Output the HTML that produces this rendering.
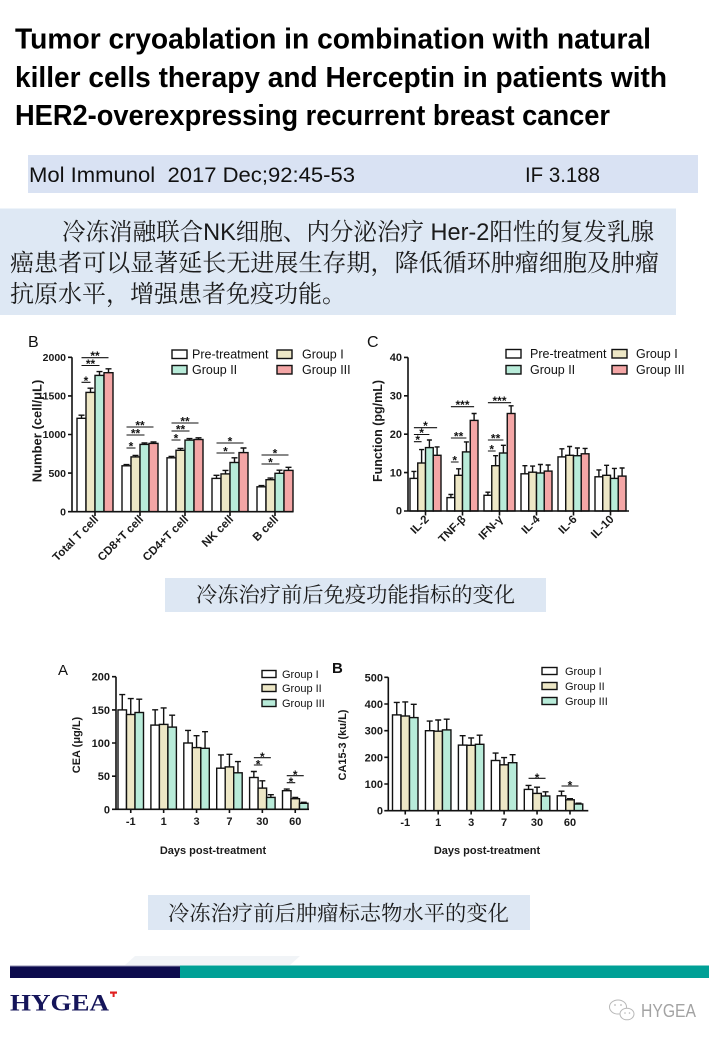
<!DOCTYPE html>
<html><head><meta charset="utf-8">
<style>
html,body{margin:0;padding:0;background:#fff;}
svg{display:block;}
.sans{font-family:"Liberation Sans","Noto Sans CJK SC",sans-serif;}
.cjk{font-family:"Liberation Sans","Noto Serif CJK SC","Noto Sans CJK SC",serif;}
.w{fill:#ffffff}.b{fill:#ede7c6}.g{fill:#b8ebd9}.p{fill:#f4a6a6}
.bars rect{stroke:#111;stroke-width:1.4;}
.ax{fill:none;stroke:#111;stroke-width:1.6;}
.eb{fill:none;stroke:#111;stroke-width:1.4;}
.sg{fill:none;stroke:#111;stroke-width:1.1;}
.tk{font-family:"Liberation Sans",sans-serif;font-weight:bold;fill:#1a1a1a;}
.st{font-family:"Liberation Sans",sans-serif;font-weight:bold;font-size:12px;fill:#111;text-anchor:middle;}
.lg{font-family:"Liberation Sans",sans-serif;fill:#111;}
</style></head>
<body>
<svg width="720" height="1040" viewBox="0 0 720 1040" xmlns="http://www.w3.org/2000/svg">
<rect x="0" y="0" width="720" height="1040" fill="#fff"/>

<!-- Title -->
<g class="sans" font-weight="bold" font-size="29" fill="#000">
<text x="15" y="48.5" textLength="636" lengthAdjust="spacingAndGlyphs">Tumor cryoablation in combination with natural</text>
<text x="15" y="87" textLength="652" lengthAdjust="spacingAndGlyphs">killer cells therapy and Herceptin in patients with</text>
<text x="15" y="125" textLength="595" lengthAdjust="spacingAndGlyphs">HER2-overexpressing recurrent breast cancer</text>
</g>

<!-- Journal box -->
<rect x="28" y="155" width="670" height="38" fill="#d9e2f3"/>
<text class="sans" x="29" y="182" font-size="21" fill="#111" textLength="326" lengthAdjust="spacingAndGlyphs" style="white-space:pre">Mol Immunol  2017 Dec;92:45-53</text>
<text class="sans" x="525" y="182" font-size="21" fill="#111" textLength="75" lengthAdjust="spacingAndGlyphs">IF 3.188</text>

<!-- Chinese summary box -->
<rect x="0" y="208.5" width="676" height="106.5" fill="#dee8f4"/>
<g class="cjk" font-size="24" fill="#1a1a1a">
<text x="62" y="240" textLength="592" lengthAdjust="spacingAndGlyphs">冷冻消融联合NK细胞、内分泌治疗 Her-2阳性的复发乳腺</text>
<text x="10" y="271" textLength="649" lengthAdjust="spacingAndGlyphs">癌患者可以显著延长无进展生存期，降低循环肿瘤细胞及肿瘤</text>
<text x="10" y="302">抗原水平，增强患者免疫功能。</text>
</g>

<!-- ================= Top chart B ================= -->
<text class="lg" x="28" y="347" font-size="16">B</text>
<g class="bars">
<rect class="w" x="77" y="418.3" width="9" height="93.4"/>
<rect class="b" x="86" y="392.4" width="9" height="119.3"/>
<rect class="g" x="95" y="375.4" width="9" height="136.3"/>
<rect class="p" x="104" y="372.7" width="9" height="139"/>
<rect class="w" x="122" y="465.8" width="9" height="45.9"/>
<rect class="b" x="131" y="456.9" width="9" height="54.8"/>
<rect class="g" x="140" y="444.4" width="9" height="67.3"/>
<rect class="p" x="149" y="443.4" width="9" height="68.3"/>
<rect class="w" x="167" y="457.8" width="9" height="53.9"/>
<rect class="b" x="176" y="450.3" width="9" height="61.4"/>
<rect class="g" x="185" y="440.1" width="9" height="71.6"/>
<rect class="p" x="194" y="439.5" width="9" height="72.2"/>
<rect class="w" x="212" y="478.4" width="9" height="33.3"/>
<rect class="b" x="221" y="473.9" width="9" height="37.8"/>
<rect class="g" x="230" y="462.5" width="9" height="49.2"/>
<rect class="p" x="239" y="452.6" width="9" height="59.1"/>
<rect class="w" x="257" y="486.8" width="9" height="24.9"/>
<rect class="b" x="266" y="479.7" width="9" height="32"/>
<rect class="g" x="275" y="473.3" width="9" height="38.4"/>
<rect class="p" x="284" y="470.4" width="9" height="41.3"/>
</g>
<path class="eb" d="M81.5 418.3V415.2M78.5 415.2H84.5M90.5 392.4V388.2M87.5 388.2H93.5M99.5 375.4V371.6M96.5 371.6H102.5M108.5 372.7V368.8M105.5 368.8H111.5M126.5 465.8V464.6M123.5 464.6H129.5M135.5 456.9V455.4M132.5 455.4H138.5M144.5 444.4V443M141.5 443H147.5M153.5 443.4V442M150.5 442H156.5M171.5 457.8V456.4M168.5 456.4H174.5M180.5 450.3V448.4M177.5 448.4H183.5M189.5 440.1V438.6M186.5 438.6H192.5M198.5 439.5V437.8M195.5 437.8H201.5M216.5 478.4V475.3M213.5 475.3H219.5M225.5 473.9V470.4M222.5 470.4H228.5M234.5 462.5V457.8M231.5 457.8H237.5M243.5 452.6V448M240.5 448H246.5M261.5 486.8V485.6M258.5 485.6H264.5M270.5 479.7V478.1M267.5 478.1H273.5M279.5 473.3V470.2M276.5 470.2H282.5M288.5 470.4V467.3M285.5 467.3H291.5"/>
<path class="sg" d="M81.5 357.7H108.5M81.5 365.5H99.5M81.5 382.3H90.5M126.5 427H153.5M126.5 435H144.5M126.5 448H135.5M171.5 423H198.5M171.5 431H189.5M171.5 440H180.5M216.5 443H243.5M216.5 453H234.5M261.5 455H288.5M261.5 464H279.5"/>
<g class="st">
<text x="95" y="360.2">**</text><text x="90.5" y="368">**</text><text x="86" y="384.8">*</text>
<text x="140" y="429.5">**</text><text x="135.5" y="437.5">**</text><text x="131" y="450.5">*</text>
<text x="185" y="425.5">**</text><text x="180.5" y="433.5">**</text><text x="176" y="442.5">*</text>
<text x="230" y="445.5">*</text><text x="225.5" y="455.5">*</text>
<text x="275" y="457.5">*</text><text x="270.5" y="466.5">*</text>
</g>
<path class="ax" d="M72 357.3V511.7H293M68 357.3H72M68 395.9H72M68 434.5H72M68 473.1H72M68 511.7H72M95 511.7V516M140 511.7V516M185 511.7V516M230 511.7V516M275 511.7V516"/>
<g class="tk" font-size="10.5" text-anchor="end">
<text x="66" y="361">2000</text><text x="66" y="399.6">1500</text><text x="66" y="438.2">1000</text><text x="66" y="476.8">500</text><text x="66" y="515.4">0</text>
</g>
<g class="tk" font-size="11.5" text-anchor="end">
<text transform="translate(99,520) rotate(-45)">Total T cell</text>
<text transform="translate(144,520) rotate(-45)">CD8+T cell</text>
<text transform="translate(189,520) rotate(-45)">CD4+T cell</text>
<text transform="translate(234,520) rotate(-45)">NK cell</text>
<text transform="translate(279,520) rotate(-45)">B cell</text>
</g>
<text class="tk" font-size="13" text-anchor="middle" transform="translate(41.5,431) rotate(-90)">Number (cell/μL)</text>
<g class="bars">
<rect class="w" x="172" y="350" width="15" height="8.5"/>
<rect class="b" x="277" y="350" width="15" height="8.5"/>
<rect class="g" x="172" y="365.5" width="15" height="8.5"/>
<rect class="p" x="277" y="365.5" width="15" height="8.5"/>
</g>
<g class="lg" font-size="12.5">
<text x="192" y="358.5">Pre-treatment</text><text x="302" y="358.5">Group I</text>
<text x="192" y="374">Group II</text><text x="302" y="374">Group III</text>
</g>

<!-- ================= Top chart C ================= -->
<text class="lg" x="367" y="347" font-size="16">C</text>
<g class="bars">
<rect class="w" x="410" y="478.4" width="7.75" height="32.6"/>
<rect class="b" x="417.75" y="463" width="7.75" height="48"/>
<rect class="g" x="425.5" y="447.6" width="7.75" height="63.4"/>
<rect class="p" x="433.25" y="455.3" width="7.75" height="55.7"/>
<rect class="w" x="447" y="497.6" width="7.75" height="13.4"/>
<rect class="b" x="454.75" y="475.3" width="7.75" height="35.7"/>
<rect class="g" x="462.5" y="451.9" width="7.75" height="59.1"/>
<rect class="p" x="470.25" y="420.4" width="7.75" height="90.6"/>
<rect class="w" x="484" y="495.3" width="7.75" height="15.7"/>
<rect class="b" x="491.75" y="465.7" width="7.75" height="45.3"/>
<rect class="g" x="499.5" y="453" width="7.75" height="58"/>
<rect class="p" x="507.25" y="413.5" width="7.75" height="97.5"/>
<rect class="w" x="521" y="473.8" width="7.75" height="37.2"/>
<rect class="b" x="528.75" y="472.2" width="7.75" height="38.8"/>
<rect class="g" x="536.5" y="473" width="7.75" height="38"/>
<rect class="p" x="544.25" y="471.1" width="7.75" height="39.9"/>
<rect class="w" x="558" y="456.9" width="7.75" height="54.1"/>
<rect class="b" x="565.75" y="455.3" width="7.75" height="55.7"/>
<rect class="g" x="573.5" y="455.7" width="7.75" height="55.3"/>
<rect class="p" x="581.25" y="453.8" width="7.75" height="57.2"/>
<rect class="w" x="595" y="476.8" width="7.75" height="34.2"/>
<rect class="b" x="602.75" y="475.3" width="7.75" height="35.7"/>
<rect class="g" x="610.5" y="478.4" width="7.75" height="32.6"/>
<rect class="p" x="618.25" y="476.1" width="7.75" height="34.9"/>
</g>
<path class="eb" d="M413.9 478.4V471.4M411.4 471.4H416.4M421.6 463V449.6M419.1 449.6H424.1M429.4 447.6V440M426.9 440H431.9M437.1 455.3V446.9M434.6 446.9H439.6M450.9 497.6V494.5M448.4 494.5H453.4M458.6 475.3V468.8M456.1 468.8H461.1M466.4 451.9V441.9M463.9 441.9H468.9M474.1 420.4V413.5M471.6 413.5H476.6M487.9 495.3V492.2M485.4 492.2H490.4M495.6 465.7V455.7M493.1 455.7H498.1M503.4 453V445.3M500.9 445.3H505.9M511.1 413.5V405.8M508.6 405.8H513.6M524.9 473.8V465.7M522.4 465.7H527.4M532.6 472.2V466.1M530.1 466.1H535.1M540.4 473V464.5M537.9 464.5H542.9M548.1 471.1V465M545.6 465H550.6M561.9 456.9V448.8M559.4 448.8H564.4M569.6 455.3V446.5M567.1 446.5H572.1M577.4 455.7V448M574.9 448H579.9M585.1 453.8V448.4M582.6 448.4H587.6M598.9 476.8V469.9M596.4 469.9H601.4M606.6 475.3V465.3M604.1 465.3H609.1M614.4 478.4V468.4M611.9 468.4H616.9M622.1 476.1V468M619.6 468H624.6"/>
<path class="sg" d="M413.9 427.7H437.1M413.9 434.5H429.4M413.9 441.7H421.6M450.9 406.7H474.1M450.9 438H466.4M450.9 462H458.6M487.9 402.7H511.1M487.9 440H503.4M487.9 451H495.6"/>
<g class="st">
<text x="425.5" y="430.2">*</text><text x="421.6" y="437">*</text><text x="417.7" y="444.2">*</text>
<text x="462.5" y="409.2">***</text><text x="458.6" y="440.5">**</text><text x="454.7" y="464.5">*</text>
<text x="499.5" y="405.2">***</text><text x="495.6" y="442.5">**</text><text x="491.7" y="453.5">*</text>
</g>
<path class="ax" d="M408 357.4V511H629M404 357.4H408M404 395.8H408M404 434.2H408M404 472.6H408M404 511H408M425.5 511V515.5M462.5 511V515.5M499.5 511V515.5M536.5 511V515.5M573.5 511V515.5M610.5 511V515.5"/>
<g class="tk" font-size="11" text-anchor="end">
<text x="402" y="361.1">40</text><text x="402" y="399.5">30</text><text x="402" y="437.9">20</text><text x="402" y="476.3">10</text><text x="402" y="514.7">0</text>
</g>
<g class="tk" font-size="11.5" text-anchor="end">
<text transform="translate(429.5,520) rotate(-45)">IL-2</text>
<text transform="translate(466.5,520) rotate(-45)">TNF-β</text>
<text transform="translate(503.5,520) rotate(-45)">IFN-γ</text>
<text transform="translate(540.5,520) rotate(-45)">IL-4</text>
<text transform="translate(577.5,520) rotate(-45)">IL-6</text>
<text transform="translate(614.5,520) rotate(-45)">IL-10</text>
</g>
<text class="tk" font-size="12.5" text-anchor="middle" transform="translate(382,431) rotate(-90)">Function (pg/mL)</text>
<g class="bars">
<rect class="w" x="506" y="349.5" width="15" height="8.5"/>
<rect class="b" x="612" y="349.5" width="15" height="8.5"/>
<rect class="g" x="506" y="365.5" width="15" height="8.5"/>
<rect class="p" x="612" y="365.5" width="15" height="8.5"/>
</g>
<g class="lg" font-size="12.5">
<text x="530" y="358">Pre-treatment</text><text x="636" y="358">Group I</text>
<text x="530" y="374">Group II</text><text x="636" y="374">Group III</text>
</g>

<!-- Caption 1 -->
<rect x="165" y="578" width="381" height="34" fill="#dde7f3"/>
<text class="cjk" x="196" y="602" font-size="21" fill="#1a1a1a" textLength="319" lengthAdjust="spacingAndGlyphs">冷冻治疗前后免疫功能指标的变化</text>

<!-- ================= Bottom chart A ================= -->
<text class="lg" x="58" y="675" font-size="15">A</text>
<g class="bars">
<rect class="w" x="118" y="709.9" width="8.5" height="99.4"/>
<rect class="b" x="126.5" y="714.5" width="8.5" height="94.8"/>
<rect class="g" x="135" y="712.5" width="8.5" height="96.8"/>
<rect class="w" x="150.9" y="725.1" width="8.5" height="84.2"/>
<rect class="b" x="159.4" y="724.4" width="8.5" height="84.9"/>
<rect class="g" x="167.9" y="727.1" width="8.5" height="82.2"/>
<rect class="w" x="183.8" y="743" width="8.5" height="66.3"/>
<rect class="b" x="192.3" y="747.6" width="8.5" height="61.7"/>
<rect class="g" x="200.8" y="748.3" width="8.5" height="61"/>
<rect class="w" x="216.7" y="768.2" width="8.5" height="41.1"/>
<rect class="b" x="225.2" y="766.9" width="8.5" height="42.4"/>
<rect class="g" x="233.7" y="772.8" width="8.5" height="36.5"/>
<rect class="w" x="249.6" y="777.5" width="8.5" height="31.8"/>
<rect class="b" x="258.1" y="788.1" width="8.5" height="21.2"/>
<rect class="g" x="266.6" y="797.4" width="8.5" height="11.9"/>
<rect class="w" x="282.5" y="790.7" width="8.5" height="18.6"/>
<rect class="b" x="291" y="798.7" width="8.5" height="10.6"/>
<rect class="g" x="299.5" y="803.3" width="8.5" height="6"/>
</g>
<path class="eb" d="M122.25 709.9V694.6M119.25 694.6H125.25M130.75 714.5V698.6M127.75 698.6H133.75M139.25 712.5V699.2M136.25 699.2H142.25M155.15 725.1V709.8M152.15 709.8H158.15M163.65 724.4V707.9M160.65 707.9H166.65M172.15 727.1V715.2M169.15 715.2H175.15M188.05 743V730.4M185.05 730.4H191.05M196.55 747.6V735.7M193.55 735.7H199.55M205.05 748.3V731.7M202.05 731.7H208.05M220.95 768.2V754.9M217.95 754.9H223.95M229.45 766.9V754.3M226.45 754.3H232.45M237.95 772.8V761.6M234.95 761.6H240.95M253.85 777.5V771.5M250.85 771.5H256.85M262.35 788.1V780.8M259.35 780.8H265.35M270.85 797.4V794.7M267.85 794.7H273.85M286.75 790.7V789.1M283.75 789.1H289.75M295.25 798.7V797.4M292.25 797.4H298.25M303.75 803.3V802.3M300.75 802.3H306.75"/>
<path class="sg" d="M253.85 757.7H270.85M253.85 765H262.35M286.75 775.7H303.75M286.75 782.7H295.25"/>
<g class="st">
<text x="262.35" y="761.2">*</text><text x="258.1" y="768.5">*</text><text x="295.25" y="779.2">*</text><text x="291" y="786.2">*</text>
</g>
<path class="ax" d="M116 676.7V809.3H309M112 676.7H116M112 709.9H116M112 743H116M112 776.2H116M112 809.3H116M130.75 809.3V813M163.65 809.3V813M196.55 809.3V813M229.45 809.3V813M262.35 809.3V813M295.25 809.3V813"/>
<g class="tk" font-size="11" text-anchor="end">
<text x="110" y="680.7">200</text><text x="110" y="713.9">150</text><text x="110" y="747">100</text><text x="110" y="780.2">50</text><text x="110" y="813.3">0</text>
</g>
<g class="tk" font-size="11" text-anchor="middle">
<text x="130.75" y="825">-1</text><text x="163.65" y="825">1</text><text x="196.55" y="825">3</text><text x="229.45" y="825">7</text><text x="262.35" y="825">30</text><text x="295.25" y="825">60</text>
<text x="213" y="854">Days post-treatment</text>
</g>
<text class="tk" font-size="11" text-anchor="middle" transform="translate(80,745) rotate(-90)">CEA (μg/L)</text>
<g class="bars">
<rect class="w" x="262" y="670.5" width="14" height="7"/>
<rect class="b" x="262" y="684.5" width="14" height="7"/>
<rect class="g" x="262" y="699.5" width="14" height="7"/>
</g>
<g class="lg" font-size="11">
<text x="282" y="678">Group I</text><text x="282" y="692">Group II</text><text x="282" y="707">Group III</text>
</g>

<!-- ================= Bottom chart B ================= -->
<text class="lg" x="332" y="673" font-size="15" font-weight="bold">B</text>
<g class="bars">
<rect class="w" x="392.5" y="714.9" width="8.5" height="95.8"/>
<rect class="b" x="401" y="716" width="8.5" height="94.7"/>
<rect class="g" x="409.5" y="717.6" width="8.5" height="93.1"/>
<rect class="w" x="425.45" y="730.7" width="8.5" height="80"/>
<rect class="b" x="433.95" y="731.2" width="8.5" height="79.5"/>
<rect class="g" x="442.45" y="729.9" width="8.5" height="80.8"/>
<rect class="w" x="458.4" y="745.1" width="8.5" height="65.6"/>
<rect class="b" x="466.9" y="745.3" width="8.5" height="65.4"/>
<rect class="g" x="475.4" y="744.3" width="8.5" height="66.4"/>
<rect class="w" x="491.35" y="760.5" width="8.5" height="50.2"/>
<rect class="b" x="499.85" y="764.8" width="8.5" height="45.9"/>
<rect class="g" x="508.35" y="762.7" width="8.5" height="48"/>
<rect class="w" x="524.3" y="789.4" width="8.5" height="21.3"/>
<rect class="b" x="532.8" y="793.4" width="8.5" height="17.3"/>
<rect class="g" x="541.3" y="796" width="8.5" height="14.7"/>
<rect class="w" x="557.25" y="795.8" width="8.5" height="14.9"/>
<rect class="b" x="565.75" y="799.8" width="8.5" height="10.9"/>
<rect class="g" x="574.25" y="804" width="8.5" height="6.7"/>
</g>
<path class="eb" d="M396.75 714.9V702.4M393.75 702.4H399.75M405.25 716V701.9M402.25 701.9H408.25M413.75 717.6V704.3M410.75 704.3H416.75M429.7 730.7V721.1M426.7 721.1H432.7M438.2 731.2V720M435.2 720H441.2M446.7 729.9V719.2M443.7 719.2H449.7M462.65 745.1V735.7M459.65 735.7H465.65M471.15 745.3V737.9M468.15 737.9H474.15M479.65 744.3V735.2M476.65 735.2H482.65M495.6 760.5V753.1M492.6 753.1H498.6M504.1 764.8V757.6M501.1 757.6H507.1M512.6 762.7V754.7M509.6 754.7H515.6M528.55 789.4V785.4M525.55 785.4H531.55M537.05 793.4V787.2M534.05 787.2H540.05M545.55 796V791.8M542.55 791.8H548.55M561.5 795.8V791.2M558.5 791.2H564.5M570 799.8V798.7M567 798.7H573M578.5 804V803.2M575.5 803.2H581.5"/>
<path class="sg" d="M528.55 778.3H545.55M561.5 786H578.5"/>
<g class="st">
<text x="537.05" y="781.8">*</text><text x="570" y="789.5">*</text>
</g>
<path class="ax" d="M388.3 677.3V810.7H588.3M384.3 677.3H388.3M384.3 704H388.3M384.3 730.7H388.3M384.3 757.3H388.3M384.3 784H388.3M384.3 810.7H388.3M405.25 810.7V814.5M438.2 810.7V814.5M471.15 810.7V814.5M504.1 810.7V814.5M537.05 810.7V814.5M570 810.7V814.5"/>
<g class="tk" font-size="11" text-anchor="end">
<text x="383" y="681.3">500</text><text x="383" y="708">400</text><text x="383" y="734.7">300</text><text x="383" y="761.3">200</text><text x="383" y="788">100</text><text x="383" y="814.7">0</text>
</g>
<g class="tk" font-size="11" text-anchor="middle">
<text x="405.25" y="826">-1</text><text x="438.2" y="826">1</text><text x="471.15" y="826">3</text><text x="504.1" y="826">7</text><text x="537.05" y="826">30</text><text x="570" y="826">60</text>
<text x="487" y="854">Days post-treatment</text>
</g>
<text class="tk" font-size="11" text-anchor="middle" transform="translate(346,745) rotate(-90)">CA15-3 (ku/L)</text>
<g class="bars">
<rect class="w" x="542" y="667.5" width="15" height="7"/>
<rect class="b" x="542" y="682.5" width="15" height="7"/>
<rect class="g" x="542" y="697.5" width="15" height="7"/>
</g>
<g class="lg" font-size="11">
<text x="565" y="675">Group I</text><text x="565" y="690">Group II</text><text x="565" y="705">Group III</text>
</g>

<!-- Caption 2 -->
<rect x="148" y="895" width="382" height="35" fill="#dde7f3"/>
<text class="cjk" x="168" y="920.5" font-size="21" fill="#1a1a1a" textLength="341" lengthAdjust="spacingAndGlyphs">冷冻治疗前后肿瘤标志物水平的变化</text>

<!-- Footer -->
<polygon points="125,965 135,956 300,956 290,965" fill="#f1f4f7"/>
<rect x="10" y="965.5" width="170" height="12.5" fill="#0c0b4d"/>
<rect x="10" y="965.5" width="170" height="1" fill="#8c8cae"/>
<rect x="180" y="965.5" width="529" height="12.5" fill="#00a096"/>
<text x="10" y="1010.5" font-family="'Liberation Serif',serif" font-weight="bold" font-size="23" fill="#15155a" textLength="99" lengthAdjust="spacingAndGlyphs">HYGEA</text>
<rect x="110" y="991.5" width="7" height="2.2" fill="#e02020"/>
<rect x="112.6" y="991.5" width="2" height="5.5" fill="#e02020"/>
<g fill="none" stroke="#b8b8b8" stroke-width="1">
<ellipse cx="618" cy="1007" rx="8.5" ry="7"/>
<ellipse cx="627" cy="1014" rx="7" ry="5.8" fill="#fff"/>
</g>
<g fill="#b8b8b8"><circle cx="615" cy="1005" r="0.9"/><circle cx="621" cy="1005" r="0.9"/><circle cx="625" cy="1013" r="0.8"/><circle cx="629.5" cy="1013" r="0.8"/></g>
<text class="sans" x="641" y="1017" font-size="18" fill="#a3a3a3" textLength="55" lengthAdjust="spacingAndGlyphs">HYGEA</text>
</svg>
</body></html>
